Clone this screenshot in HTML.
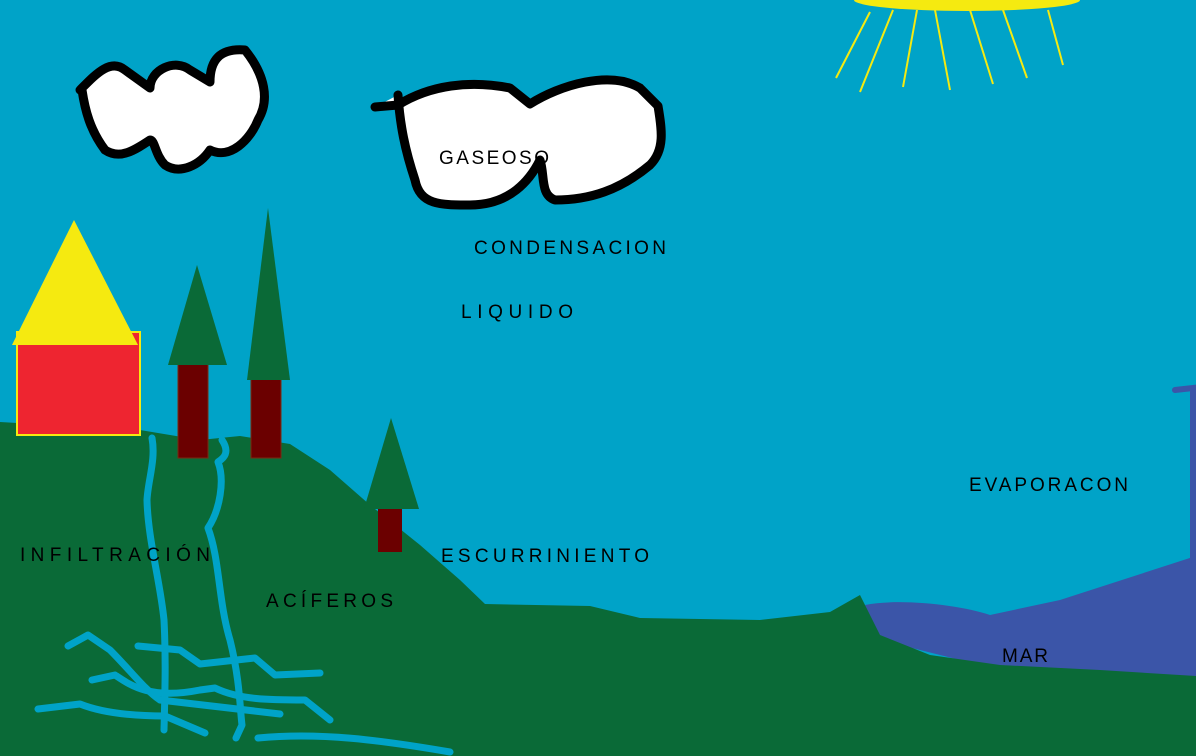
<!DOCTYPE html>
<html><head><meta charset="utf-8"><style>html,body{margin:0;padding:0;overflow:hidden}svg{display:block}text{font-family:"Liberation Sans",sans-serif;font-size:19px;fill:#000}</style></head>
<body>
<svg width="1196" height="756" viewBox="0 0 1196 756" xmlns="http://www.w3.org/2000/svg">
<rect width="1196" height="756" fill="#00a3c8"/>
<!-- sun -->
<ellipse cx="967" cy="0" rx="113" ry="11" fill="#f5ea10"/>
<g stroke="#f5ea10" stroke-width="2">
<line x1="870" y1="12" x2="836" y2="78"/><line x1="893" y1="10" x2="860" y2="92"/><line x1="917" y1="10" x2="903" y2="87"/><line x1="935" y1="10" x2="950" y2="90"/><line x1="970" y1="10" x2="993" y2="84"/><line x1="1003" y1="10" x2="1027" y2="78"/><line x1="1048" y1="10" x2="1063" y2="65"/>
</g>
<!-- sea -->
<path d="M865 605 C900 598 960 605 990 615 L1060 600 L1196 556 L1196 680 L1000 670 L880 640 Z" fill="#3b55a8"/>
<path d="M1175 390 L1193 388 L1193 560" stroke="#3b55a8" stroke-width="6" fill="none" stroke-linecap="round"/>
<!-- ground -->
<path d="M0 422 L140 430 L200 440 L240 436 L290 444 L330 470 L370 505 L420 545 L460 580 L485 604 L590 606 L640 618 L760 620 L830 612 L860 595 L870 615 L880 635 L930 655 L1000 665 L1100 670 L1196 676 L1196 756 L0 756 Z" fill="#0a6a37"/>
<!-- house -->
<rect x="17" y="332" width="123" height="103" fill="#ee2530" stroke="#f5ea10" stroke-width="2"/>
<polygon points="74,220 12,345 138,345" fill="#f5ea10"/>
<!-- trees -->
<rect x="178" y="362" width="30" height="96" fill="#6b0000" stroke="#7a2a10"/>
<polygon points="197,265 168,365 227,365" fill="#0a6a37"/>
<rect x="251" y="378" width="30" height="80" fill="#6b0000" stroke="#7a2a10"/>
<polygon points="268,208 247,380 290,380" fill="#0a6a37"/>
<rect x="378" y="508" width="24" height="44" fill="#6b0000"/>
<polygon points="391,418 364,509 419,509" fill="#0a6a37"/>
<!-- water lines -->
<g stroke="#00a3c8" stroke-width="7" fill="none" stroke-linecap="round" stroke-linejoin="round">
<path d="M152 438 C156 460 148 480 147 500 C148 540 160 580 164 620 C166 660 165 690 164 730"/>
<path d="M222 440 C232 455 220 460 218 462 C225 480 220 510 208 528 C220 560 218 600 230 640 C240 680 240 710 242 725 L236 738"/>
<path d="M68 646 L88 635 L110 650 C130 670 145 690 160 700"/>
<path d="M138 646 L180 650 L200 664 L255 658 L275 675 L320 673"/>
<path d="M92 680 L115 675 C130 685 150 700 200 690 L215 688 C240 700 270 700 305 700 L330 720"/>
<path d="M38 709 L80 704 C100 712 130 716 165 716 L205 733"/>
<path d="M160 700 L280 714"/>
<path d="M258 738 C320 732 380 740 450 752"/>
</g>
<!-- clouds -->
<g fill="#fff" stroke="#000" stroke-width="9" stroke-linejoin="round" stroke-linecap="round">
<path d="M80 90 C95 75 110 58 125 70 L150 88 C150 70 175 58 190 70 L210 82 C210 60 220 48 245 50 C265 75 270 100 258 120 C250 140 230 160 210 150 C200 165 180 175 165 165 C155 155 155 140 150 140 C135 150 120 160 105 150 C90 130 85 110 82 90 Z"/>
<path d="M375 107 L398 105 C430 85 470 80 510 88 L530 104 C560 85 610 70 640 88 L658 106 C662 130 665 150 650 165 C620 190 590 200 555 200 C540 195 545 175 540 160 C530 180 510 205 470 205 C440 205 420 205 415 180 C405 150 400 125 398 95"/>
</g>
<!-- labels -->
<text x="439" y="164" textLength="110">GASEOSO</text>
<text x="474" y="254" textLength="192">CONDENSACION</text>
<text x="461" y="318" textLength="112">LIQUIDO</text>
<text x="969" y="491" textLength="159">EVAPORACON</text>
<text x="20" y="561" textLength="190">INFILTRACIÓN</text>
<text x="441" y="562" textLength="208">ESCURRINIENTO</text>
<text x="266" y="607" textLength="127">ACÍFEROS</text>
<text x="1002" y="662" textLength="46">MAR</text>
</svg>
</body></html>
